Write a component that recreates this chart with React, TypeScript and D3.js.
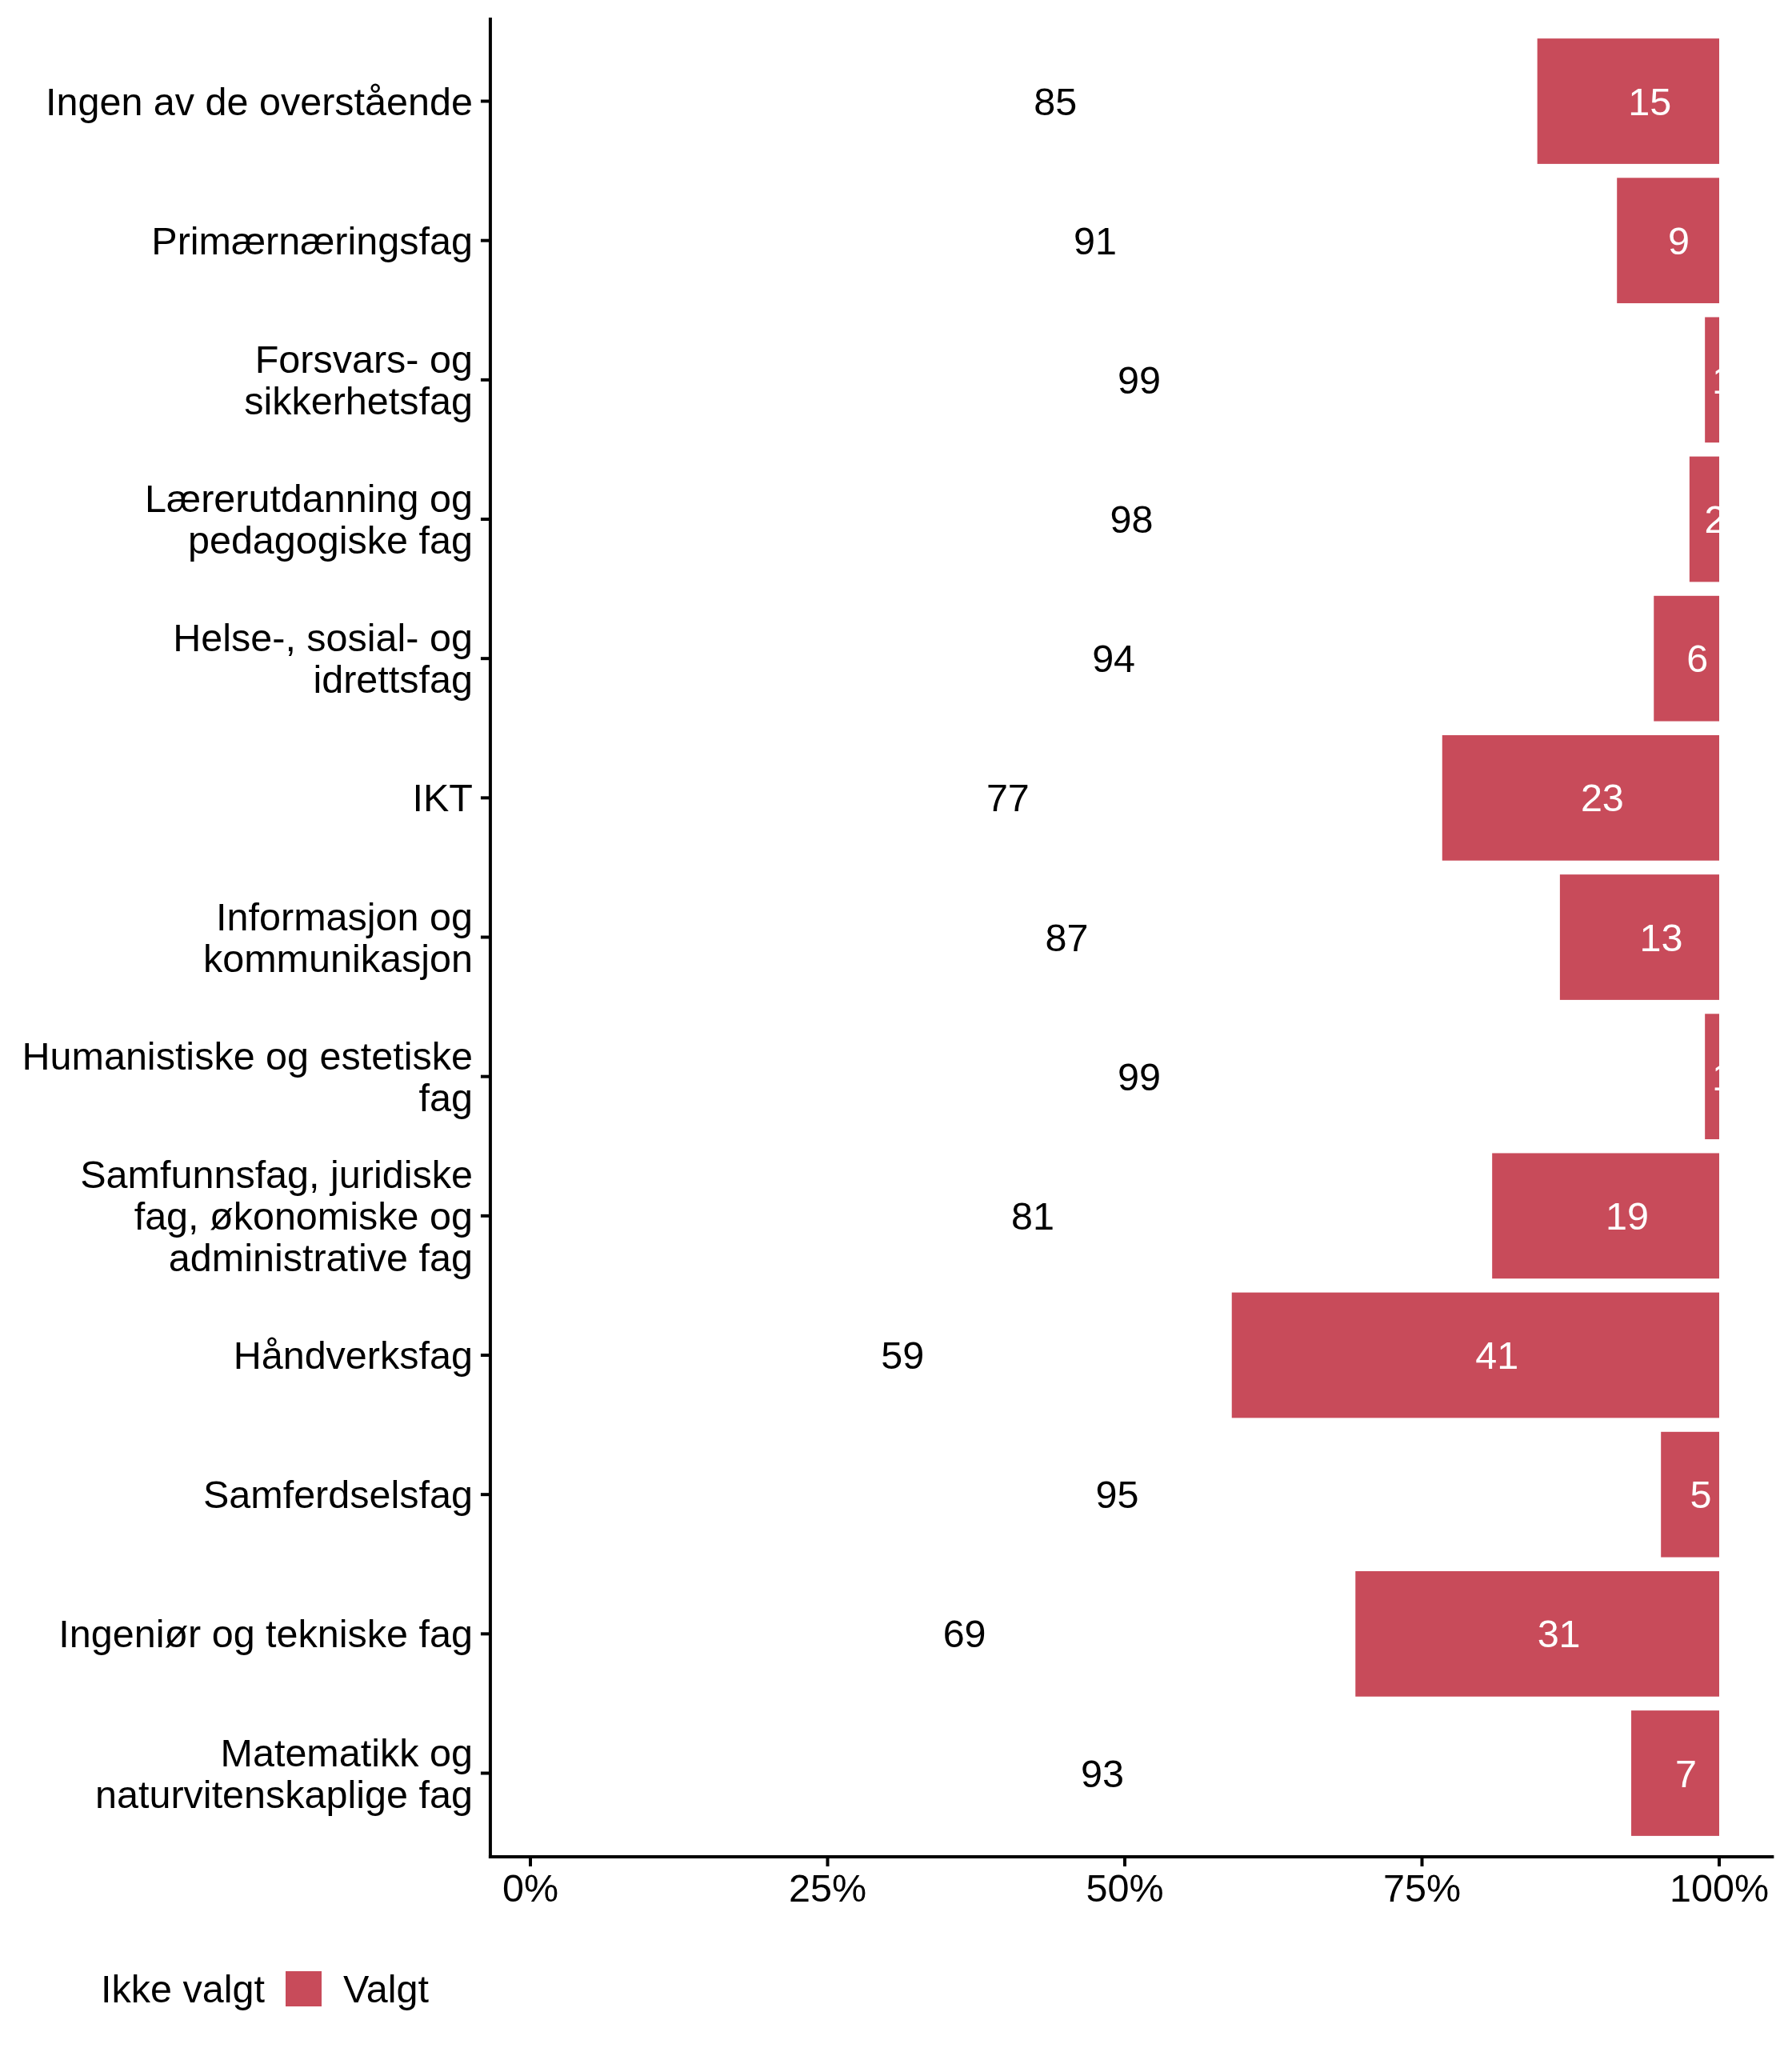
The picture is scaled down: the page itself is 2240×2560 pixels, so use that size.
import React from 'react';
import * as d3 from 'd3';

const WIDTH = 2240;
const HEIGHT = 2560;
const FONT = '"Liberation Sans", Arial, sans-serif';
const FONT_SIZE = 48.5;
const BAR_COLOR = '#C84B5A';

const categories = [
  'Ingen av de overstående',
  'Primærnæringsfag',
  'Forsvars- og\nsikkerhetsfag',
  'Lærerutdanning og\npedagogiske fag',
  'Helse-, sosial- og\nidrettsfag',
  'IKT',
  'Informasjon og\nkommunikasjon',
  'Humanistiske og estetiske\nfag',
  'Samfunnsfag, juridiske\nfag, økonomiske og\nadministrative fag',
  'Håndverksfag',
  'Samferdselsfag',
  'Ingeniør og tekniske fag',
  'Matematikk og\nnaturvitenskaplige fag',
];
// share (%) of "Valgt"
const valgtShare = [15.3, 8.6, 1.2, 2.5, 5.5, 23.3, 13.4, 1.2, 19.1, 41.0, 4.9, 30.6, 7.4];
// printed (rounded) labels
const ikkeValgtLabels = [85, 91, 99, 98, 94, 77, 87, 99, 81, 59, 95, 69, 93];
const valgtLabels = [15, 9, 1, 2, 6, 23, 13, 1, 19, 41, 5, 31, 7];
const xTicks = [0, 0.25, 0.5, 0.75, 1];
const legendLabels = ['Ikke valgt', 'Valgt'];

const PANEL = { top: 22, bottom: 2321 };

export default function App() {
  const xScale = d3.scaleLinear().domain([0, 1]).range([663, 2149]);
  const panelLeft = xScale(-0.0337);
  const panelRight = xScale(1.046);

  const yScale = d3
    .scaleBand<string>()
    .domain(categories)
    .range([PANEL.top, PANEL.bottom])
    .paddingInner(0.1)
    .paddingOuter(0.15);

  const rows = categories.map((cat, i) => {
    const y = yScale(cat) ?? 0;
    const bw = yScale.bandwidth();
    const cy = y + bw / 2;
    const b = valgtShare[i] / 100;
    const a = 1 - b;
    const lines = cat.split('\n');
    const lineH = 52;
    const firstBaseline = cy + 17 - ((lines.length - 1) * lineH) / 2;
    return (
      <g key={cat}>
        <rect x={xScale(a)} y={y} width={xScale(1) - xScale(a)} height={bw} fill={BAR_COLOR} />
        <text x={xScale(a / 2)} y={cy + 17} textAnchor="start" fontSize={FONT_SIZE} fill="#000">
          {ikkeValgtLabels[i]}
        </text>
        <text x={xScale(a + b / 2)} y={cy + 17} textAnchor="start" fontSize={FONT_SIZE} fill="#fff">
          {valgtLabels[i]}
        </text>
        <line x1={panelLeft - 12} x2={panelLeft} y1={cy} y2={cy} stroke="#000" strokeWidth={4} />
        <text x={panelLeft - 22} y={firstBaseline} textAnchor="end" fontSize={FONT_SIZE} fill="#000">
          {lines.map((l, j) => (
            <tspan key={j} x={panelLeft - 22} y={firstBaseline + j * lineH}>
              {l}
            </tspan>
          ))}
        </text>
      </g>
    );
  });

  const xAxis = xTicks.map((t) => (
    <g key={t}>
      <line x1={xScale(t)} x2={xScale(t)} y1={PANEL.bottom} y2={PANEL.bottom + 12} stroke="#000" strokeWidth={4} />
      <text x={xScale(t)} y={PANEL.bottom + 56} textAnchor="middle" fontSize={FONT_SIZE} fill="#000">
        {d3.format('.0%')(t)}
      </text>
    </g>
  ));

  return (
    <svg
      width={WIDTH}
      height={HEIGHT}
      style={{ position: 'absolute', left: 0, top: 0, background: '#fff' }}
      fontFamily={FONT}
    >
      <rect x={0} y={0} width={WIDTH} height={HEIGHT} fill="#fff" />
      {rows}
      <line x1={panelLeft} x2={panelLeft} y1={PANEL.top} y2={PANEL.bottom + 2} stroke="#000" strokeWidth={4} />
      <line x1={panelLeft - 2} x2={panelRight} y1={PANEL.bottom} y2={PANEL.bottom} stroke="#000" strokeWidth={4} />
      {xAxis}
      <g>
        <text x={126} y={2503} fontSize={FONT_SIZE} fill="#000">
          {legendLabels[0]}
        </text>
        <rect x={357} y={2464} width={45} height={44} fill={BAR_COLOR} />
        <text x={429} y={2503} fontSize={FONT_SIZE} fill="#000">
          {legendLabels[1]}
        </text>
      </g>
    </svg>
  );
}
